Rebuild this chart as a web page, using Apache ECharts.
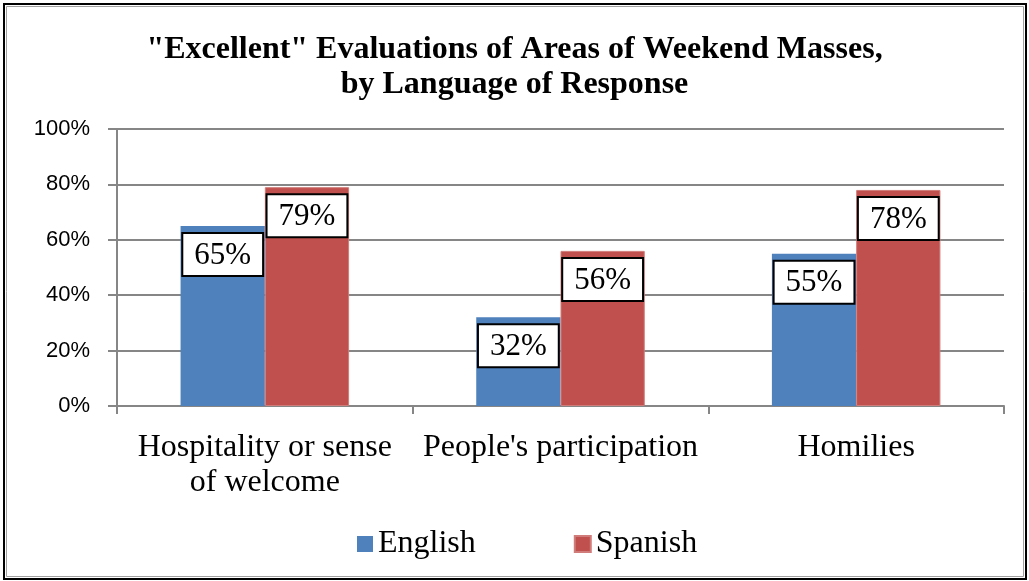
<!DOCTYPE html>
<html>
<head>
<meta charset="utf-8">
<script src="https://cdn.jsdelivr.net/npm/echarts@6/dist/echarts.min.js"></script>
<style>
html,body{margin:0;padding:0;background:#fff;}
#c{width:1029px;height:581px;}
</style>
</head>
<body>
<div id="c"></div>
<script>
var categories = ["Hospitality or sense\nof welcome", "People's participation", "Homilies"];
var english = [65, 32, 55];
var spanish = [79, 56, 78];
var yTicks = [0, 20, 40, 60, 80, 100];

var chart = echarts.init(document.getElementById('c'), null, {renderer: 'canvas'});
var serif = '"Liberation Serif", "Times New Roman", serif';
var sans = '"Liberation Sans", Arial, sans-serif';

var labelStyle = {
  show: true,
  position: 'insideTop',
  distance: 8,
  formatter: '{c}%',
  fontFamily: serif,
  fontSize: 31,
  color: '#000',
  backgroundColor: '#fff',
  borderColor: '#000',
  borderWidth: 2,
  padding: [6, 11, 4, 11]
};

chart.setOption({
  animation: false,
  backgroundColor: '#fff',
  title: {
    text: '"Excellent" Evaluations of Areas of Weekend Masses,\nby Language of Response',
    left: 'center',
    top: 27,
    textStyle: {
      fontFamily: serif,
      fontWeight: 'bold',
      fontSize: 32,
      lineHeight: 35,
      color: '#000'
    }
  },
  legend: {
    left: 357,
    top: 528,
    padding: 0,
    itemWidth: 16,
    itemHeight: 16,
    itemGap: 98,
    icon: 'rect',
    textStyle: {fontFamily: serif, fontSize: 32, color: '#000'},
    data: ['English', 'Spanish']
  },
  grid: {left: 117, right: 25, top: 129, bottom: 175, containLabel: false},
  xAxis: {
    type: 'category',
    data: categories,
    axisLine: {lineStyle: {color: '#868686', width: 2}},
    axisTick: {show: true, length: 8, lineStyle: {color: '#868686', width: 2}},
    axisLabel: {interval: 0, fontFamily: serif, fontSize: 32, lineHeight: 35, color: '#000', margin: 24}
  },
  yAxis: {
    type: 'value',
    min: 0,
    max: 100,
    interval: 20,
    axisLine: {show: true, lineStyle: {color: '#868686', width: 2}},
    axisTick: {show: true, length: 9, lineStyle: {color: '#868686', width: 2}},
    splitLine: {lineStyle: {color: '#868686', width: 2}},
    axisLabel: {
      formatter: function (v) { return yTicks.indexOf(v) >= 0 ? v + '%' : ''; },
      fontFamily: sans, fontSize: 22, color: '#000', margin: 27
    }
  },
  series: [
    {
      name: 'English', type: 'bar', data: english,
      barWidth: '28.5%', barGap: '0%',
      itemStyle: {color: '#4F81BD'},
      label: labelStyle
    },
    {
      name: 'Spanish', type: 'bar', data: spanish,
      barWidth: '28.5%', barGap: '0%',
      itemStyle: {color: '#C0504D', borderColor: '#D07C7A', borderWidth: 1},
      label: labelStyle
    }
  ],
  graphic: [
    {type: 'rect', shape: {x: 4, y: 4, width: 1022, height: 575}, style: {fill: 'none', stroke: '#000', lineWidth: 2}, z: 100},
    {type: 'rect', shape: {x: 6.5, y: 6.5, width: 1017, height: 570}, style: {fill: 'none', stroke: '#A0A0A0', lineWidth: 1}, z: 100}
  ]
});
</script>
</body>
</html>
